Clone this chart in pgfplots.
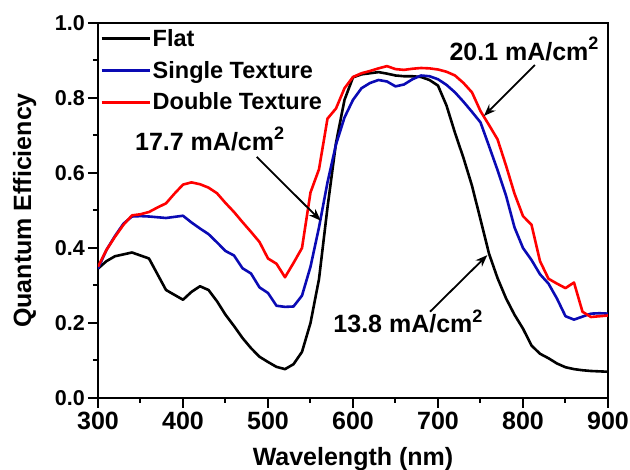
\documentclass[border=0pt]{standalone}
\usepackage{fontspec}
\setmainfont{Liberation Sans}
\usepackage{pgfplots}
\pgfplotsset{compat=1.18}
\usepackage{pgfplotstable}
\usetikzlibrary{arrows.meta}

\definecolor{flatc}{RGB}{0,0,0}
\definecolor{singlec}{RGB}{10,10,180}
\definecolor{doublec}{RGB}{255,0,0}

% External quantum efficiency of the three cell types
\pgfplotstableread{
wl  flat  single double
300 0.345 0.345 0.350
310 0.365 0.395 0.395
320 0.378 0.432 0.430
330 0.383 0.465 0.462
340 0.388 0.484 0.487
350 0.380 0.485 0.490
360 0.372 0.484 0.496
370 0.330 0.482 0.508
380 0.288 0.480 0.519
390 0.275 0.483 0.545
400 0.262 0.486 0.569
410 0.283 0.468 0.575
420 0.298 0.452 0.570
430 0.288 0.437 0.561
440 0.258 0.415 0.546
450 0.222 0.392 0.520
460 0.192 0.380 0.496
470 0.160 0.346 0.469
480 0.133 0.332 0.443
490 0.110 0.295 0.416
500 0.096 0.280 0.372
510 0.083 0.246 0.358
520 0.077 0.243 0.322
530 0.090 0.244 0.360
540 0.123 0.273 0.400
550 0.200 0.350 0.548
560 0.317 0.455 0.610
570 0.508 0.575 0.745
580 0.680 0.676 0.772
590 0.795 0.748 0.826
600 0.855 0.795 0.856
610 0.863 0.826 0.866
620 0.866 0.840 0.872
630 0.869 0.848 0.879
640 0.865 0.844 0.885
650 0.860 0.831 0.877
660 0.858 0.836 0.875
670 0.858 0.850 0.878
680 0.856 0.860 0.880
690 0.848 0.858 0.879
700 0.833 0.850 0.876
710 0.780 0.835 0.870
720 0.707 0.815 0.860
730 0.640 0.790 0.840
740 0.566 0.763 0.815
750 0.476 0.735 0.765
760 0.385 0.672 0.728
770 0.320 0.608 0.690
780 0.266 0.540 0.620
790 0.222 0.455 0.545
800 0.185 0.400 0.485
810 0.140 0.368 0.462
820 0.118 0.330 0.365
830 0.106 0.305 0.318
840 0.092 0.265 0.305
850 0.082 0.218 0.293
860 0.077 0.209 0.308
870 0.074 0.217 0.230
880 0.072 0.225 0.216
890 0.071 0.226 0.218
900 0.070 0.225 0.220
}\qetable

\newcommand{\jsc}[1]{#1 mA/cm\raisebox{0.42em}{\fontsize{18}{18}\selectfont 2}}
\newcommand{\legfont}{\fontsize{23.5}{28}\selectfont\bfseries}

\begin{document}
\begin{tikzpicture}
\useasboundingbox (-98pt,-72pt) rectangle (532pt,398pt);
\begin{axis}[
  scale only axis,
  width=510pt, height=375pt,
  xmin=300, xmax=900, ymin=0, ymax=1,
  xtick={300,400,500,600,700,800,900},
  ytick={0,0.2,0.4,0.6,0.8,1.0},
  minor x tick num=1, minor y tick num=1,
  xtick pos=bottom, ytick pos=left,
  tick align=outside,
  major tick length=10pt, minor tick length=5pt,
  every tick/.style={black, line width=2pt},
  axis line style={line width=2.5pt},
  /pgf/number format/assume math mode=true,
  x tick label style={font=\fontsize{25}{29}\selectfont\bfseries, inner sep=1pt, yshift=-3pt},
  y tick label style={font=\fontsize{21.5}{26}\selectfont\bfseries, inner sep=3pt,
    /pgf/number format/.cd, fixed, fixed zerofill, precision=1},
  xlabel={Wavelength (nm)},
  ylabel={Quantum Efficiency},
  label style={font=\fontsize{25}{30}\selectfont\bfseries},
  xlabel style={yshift=-13pt},
  ylabel style={yshift=12pt},
  legend style={at={(0,1)}, anchor=north west, draw=none, fill=none,
    font=\legfont,
    inner xsep=2pt, inner ysep=5pt, row sep=10pt,
    nodes={inner sep=1.5pt, font=\legfont}},
  legend cell align=left,
  legend image code/.code={\draw[#1, line width=3pt] (0pt,0pt) -- (48pt,0pt);},
  every axis plot/.append style={line width=2.6pt, line join=round},
]
\addplot[flatc, no marks] table[x=wl, y=flat] {\qetable};
\addlegendentry{\legfont Flat}
\addplot[singlec, no marks] table[x=wl, y=single] {\qetable};
\addlegendentry{\legfont Single Texture}
\addplot[doublec, no marks] table[x=wl, y=double] {\qetable};
\addlegendentry{\legfont Double Texture}

\node[anchor=base west, font=\fontsize{25}{30}\selectfont\bfseries, inner sep=0pt]
  at (axis cs:343.5,0.661) {\jsc{17.7}};
\node[anchor=base west, font=\fontsize{25}{30}\selectfont\bfseries, inner sep=0pt]
  at (axis cs:713.3,0.901) {\jsc{20.1}};
\node[anchor=base west, font=\fontsize{25}{30}\selectfont\bfseries, inner sep=0pt]
  at (axis cs:576.8,0.174) {\jsc{13.8}};

\draw[-{Stealth[length=12pt,width=9pt]}, line width=1.8pt]
  (axis cs:486.7,0.643) -- (axis cs:562,0.473);
\draw[-{Stealth[length=12pt,width=9pt]}, line width=1.8pt]
  (axis cs:814,0.888) -- (axis cs:754,0.752);
\draw[-{Stealth[length=12pt,width=9pt]}, line width=1.8pt]
  (axis cs:690.6,0.230) -- (axis cs:758,0.381);
\end{axis}
\end{tikzpicture}
\end{document}
